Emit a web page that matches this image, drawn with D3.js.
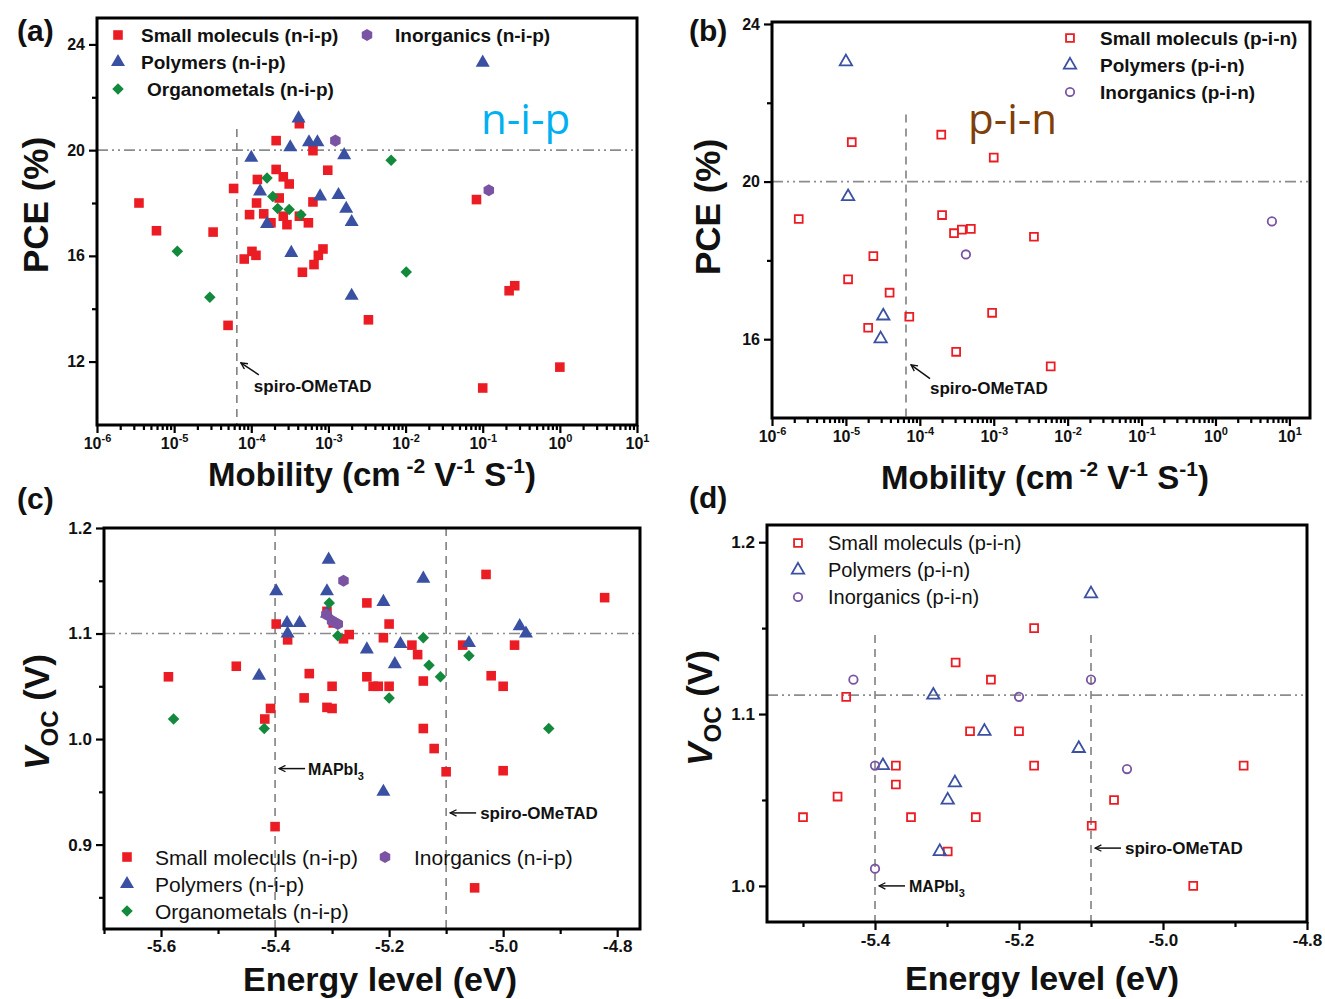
<!DOCTYPE html>
<html>
<head>
<meta charset="utf-8">
<script src="https://cdn.jsdelivr.net/npm/d3@7"></script>
<style>
body { margin: 0; background: #fff; }
svg text { font-family: "Liberation Sans", Arial, sans-serif; }
</style>
</head>
<body>
<svg id="chart" width="1325" height="999"></svg>
<script>
// ---- data: (a) PCE vs hole mobility, n-i-p ----
var aSmallMol = [[3.5e-6,18.0],[5.9e-6,16.95],[3.2e-5,16.9],[5.9e-5,18.55],[2.1e-4,20.36],[4.2e-4,21.0],[6.3e-4,19.98],
  [9.8e-4,19.24],[2.1e-4,19.27],[1.2e-4,18.89],[2.6e-4,18.99],[3.1e-4,18.72],[2.3e-4,18.19],[1.17e-4,18.0],[9.5e-5,17.56],
  [1.45e-4,17.59],[1.8e-4,17.25],[2.6e-4,17.5],[2.9e-4,17.18],[4.2e-4,17.5],[5.5e-4,17.25],[6.3e-4,18.04],[8.1e-5,15.88],
  [1.02e-4,16.17],[1.15e-4,16.02],[4.6e-4,15.38],[6.5e-4,15.67],[7.4e-4,16.02],[8.5e-4,16.26],[5.0e-5,13.37],[3.3e-3,13.58],
  [0.083,18.13],[0.22,14.68],[0.26,14.87],[1.0,11.79],[0.1,11.0]];
var aPolymer = [[4.1e-4,21.2],[3.2e-4,20.11],[5.6e-4,20.3],[7.2e-4,20.3],[1.0e-4,19.71],[1.6e-3,19.81],[1.3e-4,18.44],
  [7.8e-4,18.25],[1.35e-3,18.3],[1.7e-3,17.78],[2.0e-3,17.28],[1.6e-4,17.21],[3.3e-4,16.11],[2.0e-3,14.49],[0.1,23.31]];
var aOrganometal = [[1.6e-4,18.95],[1.9e-4,18.25],[2.2e-4,17.79],[3.1e-4,17.75],[4.4e-4,17.56],[1.1e-5,16.17],
  [2.9e-5,14.43],[6.5e-3,19.62],[1.02e-2,15.39]];
var aInorganic = [[1.23e-3,20.36],[0.12,18.48]];

// ---- data: (b) PCE vs hole mobility, p-i-n ----
var bSmallMol = [[2.3e-6,19.05],[1.2e-5,21.0],[2.35e-5,18.11],[1.07e-5,17.52],[3.9e-5,17.18],[2.0e-5,16.29],[7.2e-5,16.57],
  [1.95e-4,21.19],[1.0e-3,20.61],[2.0e-4,19.15],[2.9e-4,18.69],[3.7e-4,18.78],[4.9e-4,18.8],[3.5e-3,18.6],[9.5e-4,16.67],
  [3.1e-4,15.68],[5.9e-3,15.31]];
var bPolymer = [[1.0e-5,23.04],[1.07e-5,19.62],[3.2e-5,16.59],[2.95e-5,16.01]];
var bInorganic = [[4.2e-4,18.15],[5.8,18.99]];

// ---- data: (c) Voc vs HOMO level, n-i-p ----
var cSmallMol = [[-5.587,1.059],[-5.468,1.069],[-5.398,1.109],[-5.378,1.094],[-5.408,1.029],[-5.418,1.019],[-5.34,1.062],
  [-5.349,1.039],[-5.309,1.030],[-5.30,1.029],[-5.309,1.121],[-5.298,1.110],[-5.239,1.129],[-5.20,1.109],[-5.27,1.099],
  [-5.28,1.095],[-5.21,1.096],[-5.16,1.089],[-5.15,1.080],[-5.30,1.050],[-5.239,1.059],[-5.228,1.050],[-5.219,1.050],
  [-5.20,1.050],[-5.14,1.055],[-5.14,1.010],[-5.121,0.991],[-5.03,1.156],[-5.071,1.089],[-4.98,1.089],[-5.021,1.060],
  [-5.00,1.050],[-4.822,1.134],[-5.10,0.969],[-5.00,0.970],[-5.40,0.917],[-5.05,0.859]];
var cPolymer = [[-5.398,1.140],[-5.379,1.110],[-5.357,1.110],[-5.378,1.100],[-5.428,1.060],[-5.306,1.170],[-5.309,1.140],
  [-5.309,1.119],[-5.21,1.130],[-5.14,1.152],[-5.239,1.085],[-5.18,1.090],[-5.19,1.071],[-5.06,1.091],[-4.971,1.107],
  [-4.96,1.100],[-5.21,0.950]];
var cOrganometal = [[-5.578,1.019],[-5.419,1.010],[-5.305,1.129],[-5.29,1.098],[-5.14,1.096],[-5.13,1.070],[-5.11,1.059],
  [-5.20,1.039],[-5.06,1.079],[-4.92,1.010]];
var cInorganic = [[-5.28,1.150],[-5.31,1.118],[-5.30,1.112],[-5.29,1.109]];

// ---- data: (d) Voc vs HOMO level, p-i-n ----
var dSmallMol = [[-5.44,1.110],[-5.288,1.130],[-5.239,1.120],[-5.268,1.090],[-5.20,1.090],[-5.179,1.150],[-5.371,1.070],
  [-5.179,1.070],[-4.888,1.070],[-5.371,1.059],[-5.452,1.052],[-5.068,1.050],[-5.50,1.040],[-5.35,1.040],[-5.26,1.040],
  [-5.099,1.035],[-5.299,1.020],[-4.958,1.000]];
var dPolymer = [[-5.319,1.111],[-5.248,1.090],[-5.10,1.170],[-5.117,1.080],[-5.389,1.070],[-5.289,1.060],[-5.299,1.050],
  [-5.31,1.020]];
var dInorganic = [[-5.43,1.120],[-5.20,1.110],[-5.10,1.120],[-5.40,1.070],[-5.05,1.068],[-5.40,1.010]];

// ---- ticks and reference values ----
var mobilityTicks = [1e-6, 1e-5, 1e-4, 1e-3, 1e-2, 1e-1, 1e0, 1e1];
var pceTicksA = [12, 16, 20, 24], pceMinorA = [14, 18, 22];
var pceTicksB = [16, 20, 24], pceMinorB = [18, 22];
var energyTicksC = [-5.6, -5.4, -5.2, -5.0, -4.8], energyMinorC = [-5.7, -5.5, -5.3, -5.1, -4.9];
var energyTicksD = [-5.4, -5.2, -5.0, -4.8], energyMinorD = [-5.5, -5.3, -5.1, -4.9];
var vocTicksC = [0.9, 1.0, 1.1, 1.2], vocMinorC = [0.85, 0.95, 1.05, 1.15];
var vocTicksD = [1.0, 1.1, 1.2], vocMinorD = [1.05, 1.15];
var spiroMobility = 6.5e-5, spiroHomo = -5.1, mapbiHomo = -5.4;

var RED = "#ec1c24", BLUE = "#3a50a2", GREEN = "#13893d", PURPLE = "#7a53a3";
var svg = d3.select("#chart");

var hexType = {
  draw: function (ctx, size) {
    var r = Math.sqrt(size / 2.598);
    for (var i = 0; i < 6; i++) {
      var a = Math.PI / 3 * i + Math.PI / 6;
      if (i === 0) ctx.moveTo(r * Math.cos(a), r * Math.sin(a));
      else ctx.lineTo(r * Math.cos(a), r * Math.sin(a));
    }
    ctx.closePath();
  }
};
var SHAPES = {
  square:    {type: d3.symbolSquare, size: 92, rot: 0},
  triangle:  {type: d3.symbolTriangle, size: 85, rot: 0},
  diamond:   {type: d3.symbolSquare, size: 66, rot: 45},
  hex:       {type: hexType, size: 95, rot: 0},
  osquare:   {type: d3.symbolSquare, size: 62, rot: 0},
  otriangle: {type: d3.symbolTriangle, size: 66, rot: 0},
  ocircle:   {type: d3.symbolCircle, size: 56, rot: 0}
};

function marker(sel, key, color) {
  var s = SHAPES[key], open = key.charAt(0) === "o";
  sel.attr("d", d3.symbol().type(s.type).size(s.size))
    .attr("fill", open ? "none" : color)
    .attr("stroke", open ? color : "none")
    .attr("stroke-width", open ? 1.8 : 0);
}

function points(g, data, xs, ys, key, color) {
  var rot = SHAPES[key].rot;
  g.append("g").selectAll("path").data(data).join("path")
    .call(marker, key, color)
    .attr("transform", function (d) {
      return "translate(" + xs(d[0]) + "," + ys(d[1]) + ")" + (rot ? " rotate(" + rot + ")" : "");
    });
}

function refLines(g, xs, ys, hVal, vVals, vTop) {
  var L = xs.range()[0], R = xs.range()[1], B = ys.range()[0];
  g.append("line").attr("x1", L).attr("x2", R).attr("y1", ys(hVal)).attr("y2", ys(hVal))
    .attr("stroke", "#8c8c8c").attr("stroke-width", 1.6).attr("stroke-dasharray", "11,4,2,4,2,4");
  vVals.forEach(function (v) {
    g.append("line").attr("x1", xs(v)).attr("x2", xs(v)).attr("y1", ys(vTop)).attr("y2", B)
      .attr("stroke", "#808080").attr("stroke-width", 1.6).attr("stroke-dasharray", "8,6");
  });
}

function axes(g, xs, ys, o) {
  var L = xs.range()[0], R = xs.range()[1], B = ys.range()[0], T = ys.range()[1];
  var gx = g.append("g").attr("transform", "translate(0," + B + ")")
    .call(d3.axisBottom(xs).tickValues(o.xMajor).tickSize(8).tickSizeOuter(0).tickPadding(o.pad).tickFormat(o.xFmt));
  var gxm = g.append("g").attr("transform", "translate(0," + B + ")")
    .call(d3.axisBottom(xs).tickValues(o.xMinor).tickSize(5).tickSizeOuter(0).tickFormat(""));
  var gy = g.append("g").attr("transform", "translate(" + L + ",0)")
    .call(d3.axisLeft(ys).tickValues(o.yMajor).tickSize(8).tickSizeOuter(0).tickPadding(4).tickFormat(o.yFmt));
  var gym = g.append("g").attr("transform", "translate(" + L + ",0)")
    .call(d3.axisLeft(ys).tickValues(o.yMinor).tickSize(5).tickSizeOuter(0).tickFormat(""));
  [gx, gxm, gy, gym].forEach(function (a) {
    a.select(".domain").remove();
    a.selectAll("line").attr("stroke", "#000").attr("stroke-width", 2.2);
    a.attr("font-family", null).attr("font-size", o.fs).attr("font-weight", "bold");
    a.selectAll("text").attr("fill", "#111");
  });
  if (o.log) {
    gx.selectAll(".tick text").each(function (d) {
      var t = d3.select(this).text("10");
      t.append("tspan").attr("dy", "-0.7em").attr("font-size", 11).text(Math.round(Math.log10(d)));
    });
  }
  g.append("rect").attr("x", L).attr("y", T).attr("width", R - L).attr("height", B - T)
    .attr("fill", "none").attr("stroke", "#000").attr("stroke-width", 3);
}

function legend(g, rows, fs, weight) {
  rows.forEach(function (r) {
    var rot = SHAPES[r.shape].rot;
    g.append("path").call(marker, r.shape, r.color)
      .attr("transform", "translate(" + r.mx + "," + r.y + ")" + (rot ? " rotate(" + rot + ")" : ""));
    g.append("text").attr("x", r.tx).attr("y", r.y + fs * 0.36).attr("font-size", fs)
      .attr("font-weight", weight).attr("fill", "#111").text(r.label);
  });
}

function arrow(g, x1, y1, x2, y2) {
  g.append("line").attr("x1", x1).attr("y1", y1).attr("x2", x2).attr("y2", y2)
    .attr("stroke", "#111").attr("stroke-width", 1.5).attr("marker-end", "url(#head)");
}

svg.append("defs").append("marker").attr("id", "head").attr("viewBox", "0 0 10 10")
  .attr("refX", 9).attr("refY", 5).attr("markerWidth", 8).attr("markerHeight", 8)
  .attr("markerUnits", "userSpaceOnUse").attr("orient", "auto")
  .append("path").attr("d", "M1,1 L9,5 L1,9").attr("fill", "none").attr("stroke", "#111").attr("stroke-width", 1.6);

function xTitleMobility(g, cx, y) {
  var t = g.append("text").attr("x", cx).attr("y", y).attr("text-anchor", "middle")
    .attr("font-size", 33).attr("font-weight", "bold").attr("fill", "#111");
  t.append("tspan").text("Mobility (cm");
  t.append("tspan").attr("dy", -13).attr("font-size", 21).text(" -2");
  t.append("tspan").attr("dy", 13).text(" V");
  t.append("tspan").attr("dy", -13).attr("font-size", 21).text("-1");
  t.append("tspan").attr("dy", 13).text(" S");
  t.append("tspan").attr("dy", -13).attr("font-size", 21).text("-1");
  t.append("tspan").attr("dy", 13).text(")");
}
function yTitle(g, x, cy, kind) {
  var t = g.append("text").attr("transform", "translate(" + x + "," + cy + ") rotate(-90)")
    .attr("text-anchor", "middle").attr("font-size", 35).attr("font-weight", "bold").attr("fill", "#111");
  if (kind === "pce") { t.text("PCE (%)"); return; }
  t.append("tspan").attr("font-style", "italic").text("V");
  t.append("tspan").attr("dy", 9).attr("font-size", 24).text("OC");
  t.append("tspan").attr("dy", -9).text(" (V)");
}
function plainText(g, x, y, s, fs, weight, anchor) {
  return g.append("text").attr("x", x).attr("y", y).attr("font-size", fs).attr("font-weight", weight)
    .attr("text-anchor", anchor || "start").attr("fill", "#111").text(s);
}
function mapbiLabel(g, x, y) {
  var t = plainText(g, x, y, "MAPbI", 16, "bold");
  t.append("tspan").attr("dy", 5).attr("font-size", 11).text("3");
}
var logFmt = function () { return ""; };
var fmt1 = function (d) { return d.toFixed(1); };

// ================= (a) =================
var ga = svg.append("g");
var xa = d3.scaleLog().domain([1e-6, 1e1]).range([97, 637]);
var ya = d3.scaleLinear().domain([9.6, 25]).range([425, 18]);
refLines(ga, xa, ya, 20, [spiroMobility], 20.8);
points(ga, aSmallMol, xa, ya, "square", RED);
points(ga, aPolymer, xa, ya, "triangle", BLUE);
points(ga, aOrganometal, xa, ya, "diamond", GREEN);
points(ga, aInorganic, xa, ya, "hex", PURPLE);
axes(ga, xa, ya, {xMajor: mobilityTicks, xMinor: minorLog(1e-6, 1e1), yMajor: pceTicksA, yMinor: pceMinorA,
  xFmt: logFmt, yFmt: d3.format("d"), fs: 16, pad: 5, log: true});
legend(ga, [
  {mx: 118, tx: 141, y: 35, shape: "square", color: RED, label: "Small moleculs (n-i-p)"},
  {mx: 118, tx: 141, y: 62, shape: "triangle", color: BLUE, label: "Polymers (n-i-p)"},
  {mx: 118, tx: 147, y: 89, shape: "diamond", color: GREEN, label: "Organometals (n-i-p)"},
  {mx: 367, tx: 395, y: 35, shape: "hex", color: PURPLE, label: "Inorganics (n-i-p)"}
], 19, "bold");
arrow(ga, xa(spiroMobility) + 22, ya(11.5), xa(spiroMobility) + 4, ya(11.95));
plainText(ga, xa(spiroMobility) + 17, ya(10.85), "spiro-OMeTAD", 17, "bold");
plainText(ga, 481, 134, "n-i-p", 42, "normal").attr("fill", "#00b0f0").style("font-family", "'Open Sans', sans-serif");
yTitle(ga, 48, 205, "pce");
xTitleMobility(ga, 372, 486);
plainText(ga, 17, 41, "(a)", 30, "bold");

// ================= (b) =================
var gb = svg.append("g");
var xb = d3.scaleLog().domain([1e-6, 19]).range([772, 1310]);
var yb = d3.scaleLinear().domain([14, 24.05]).range([418, 22]);
refLines(gb, xb, yb, 20, [spiroMobility], 21.7);
points(gb, bSmallMol, xb, yb, "osquare", RED);
points(gb, bPolymer, xb, yb, "otriangle", BLUE);
points(gb, bInorganic, xb, yb, "ocircle", PURPLE);
axes(gb, xb, yb, {xMajor: mobilityTicks, xMinor: minorLog(1e-6, 19), yMajor: pceTicksB, yMinor: pceMinorB,
  xFmt: logFmt, yFmt: d3.format("d"), fs: 16, pad: 5, log: true});
legend(gb, [
  {mx: 1070, tx: 1100, y: 38, shape: "osquare", color: RED, label: "Small moleculs (p-i-n)"},
  {mx: 1070, tx: 1100, y: 65, shape: "otriangle", color: BLUE, label: "Polymers (p-i-n)"},
  {mx: 1070, tx: 1100, y: 92, shape: "ocircle", color: PURPLE, label: "Inorganics (p-i-n)"}
], 19, "bold");
arrow(gb, xb(spiroMobility) + 24, yb(15.0), xb(spiroMobility) + 5, yb(15.35));
plainText(gb, xb(spiroMobility) + 24, yb(14.62), "spiro-OMeTAD", 17, "bold");
plainText(gb, 968, 134, "p-i-n", 42, "normal").attr("fill", "#7f3f0a").style("font-family", "'Open Sans', sans-serif");
yTitle(gb, 720, 207, "pce");
xTitleMobility(gb, 1045, 489);
plainText(gb, 689, 41, "(b)", 30, "bold");

// ================= (c) =================
var gc = svg.append("g");
var xc = d3.scaleLinear().domain([-5.7, -4.76]).range([104, 640]);
var yc = d3.scaleLinear().domain([0.82, 1.2]).range([929, 528]);
refLines(gc, xc, yc, 1.1, [mapbiHomo, spiroHomo], 1.2);
points(gc, cSmallMol, xc, yc, "square", RED);
points(gc, cPolymer, xc, yc, "triangle", BLUE);
points(gc, cOrganometal, xc, yc, "diamond", GREEN);
points(gc, cInorganic, xc, yc, "hex", PURPLE);
axes(gc, xc, yc, {xMajor: energyTicksC, xMinor: energyMinorC, yMajor: vocTicksC, yMinor: vocMinorC,
  xFmt: fmt1, yFmt: fmt1, fs: 17, pad: 3, log: false});
legend(gc, [
  {mx: 127, tx: 155, y: 857, shape: "square", color: RED, label: "Small moleculs (n-i-p)"},
  {mx: 127, tx: 155, y: 884, shape: "triangle", color: BLUE, label: "Polymers (n-i-p)"},
  {mx: 127, tx: 155, y: 911, shape: "diamond", color: GREEN, label: "Organometals (n-i-p)"},
  {mx: 385, tx: 414, y: 857, shape: "hex", color: PURPLE, label: "Inorganics (n-i-p)"}
], 21, "normal");
arrow(gc, xc(mapbiHomo) + 30, yc(0.972), xc(mapbiHomo) + 4, yc(0.972));
mapbiLabel(gc, xc(mapbiHomo) + 33, yc(0.972) + 6);
arrow(gc, xc(spiroHomo) + 30, yc(0.930), xc(spiroHomo) + 4, yc(0.930));
plainText(gc, xc(spiroHomo) + 34, yc(0.930) + 6, "spiro-OMeTAD", 17, "bold");
yTitle(gc, 49, 712, "voc");
plainText(gc, 380, 991, "Energy level (eV)", 34, "bold", "middle");
plainText(gc, 17, 509, "(c)", 30, "bold");

// ================= (d) =================
var gd = svg.append("g");
var xd = d3.scaleLinear().domain([-5.55, -4.8]).range([767, 1307]);
var yd = d3.scaleLinear().domain([0.979, 1.21]).range([922, 525]);
refLines(gd, xd, yd, 1.111, [mapbiHomo, spiroHomo], 1.146);
points(gd, dSmallMol, xd, yd, "osquare", RED);
points(gd, dPolymer, xd, yd, "otriangle", BLUE);
points(gd, dInorganic, xd, yd, "ocircle", PURPLE);
axes(gd, xd, yd, {xMajor: energyTicksD, xMinor: energyMinorD, yMajor: vocTicksD, yMinor: vocMinorD,
  xFmt: fmt1, yFmt: fmt1, fs: 17, pad: 4, log: false});
legend(gd, [
  {mx: 798, tx: 828, y: 543, shape: "osquare", color: RED, label: "Small moleculs (p-i-n)"},
  {mx: 798, tx: 828, y: 570, shape: "otriangle", color: BLUE, label: "Polymers (p-i-n)"},
  {mx: 798, tx: 828, y: 597, shape: "ocircle", color: PURPLE, label: "Inorganics (p-i-n)"}
], 20, "normal");
arrow(gd, xd(mapbiHomo) + 30, yd(1.0), xd(mapbiHomo) + 4, yd(1.0));
mapbiLabel(gd, xd(mapbiHomo) + 34, yd(1.0) + 6);
arrow(gd, xd(spiroHomo) + 30, yd(1.022), xd(spiroHomo) + 4, yd(1.022));
plainText(gd, xd(spiroHomo) + 34, yd(1.022) + 6, "spiro-OMeTAD", 17, "bold");
yTitle(gd, 712, 708, "voc");
plainText(gd, 1042, 990, "Energy level (eV)", 34, "bold", "middle");
plainText(gd, 689, 508, "(d)", 30, "bold");

function minorLog(lo, hi) {
  var out = [];
  for (var e = Math.round(Math.log10(lo)); e < Math.log10(hi); e++) {
    for (var k = 2; k < 10; k++) {
      var v = k * Math.pow(10, e);
      if (v <= hi) out.push(v);
    }
  }
  return out;
}
</script>
</body>
</html>
